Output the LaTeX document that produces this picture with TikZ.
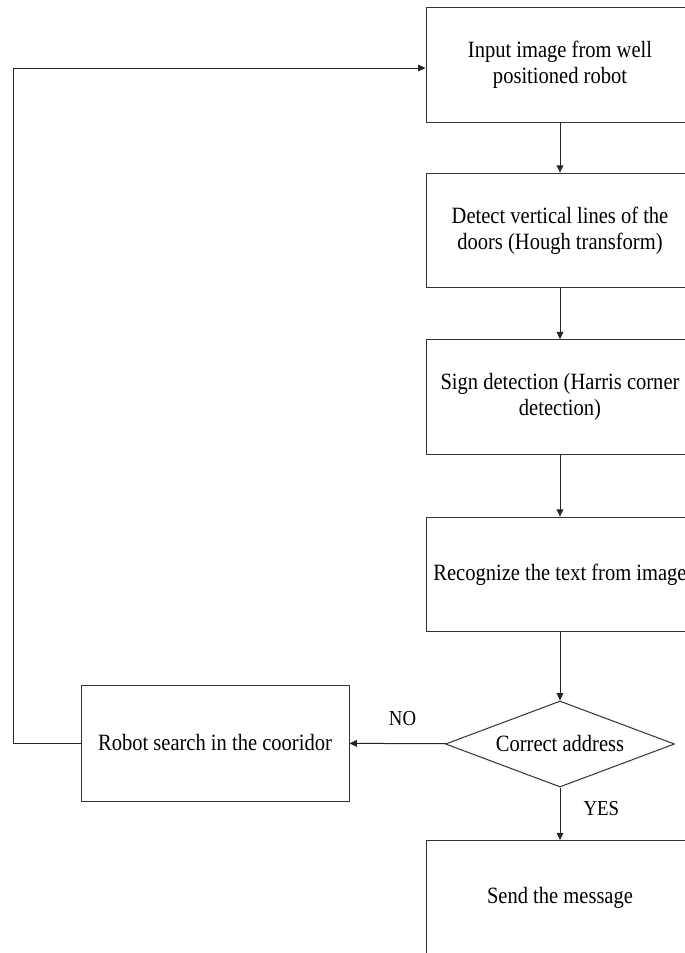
\documentclass[tikz,border=0pt]{standalone}
\usepackage{fontspec}
\setmainfont{Liberation Serif}[FakeStretch=0.88]
\usetikzlibrary{shapes.geometric,arrows.meta}
\begin{document}
\begin{tikzpicture}[x=0.75pt,y=-0.75pt,
  every node/.style={font=\fontsize{17.5}{19.5}\selectfont, text=black},
  procbox/.style={draw=black!80, line width=0.75pt, rectangle,
    minimum width=201pt, minimum height=86pt, inner sep=1pt, align=center},
  decision/.style={draw=black!80, line width=0.75pt, diamond, aspect=2.66,
    minimum width=171.75pt, minimum height=64.5pt, inner sep=0pt},
  flow/.style={draw=black!85, line width=0.75pt, -{Triangle[length=5.5pt,width=5pt]}},
  tag/.style={font=\fontsize{16}{18}\selectfont}]
\clip (0,0) rectangle (685,953);
\fill[white] (0,0) rectangle (685,953);

\node[procbox] (input) at (560,65) {Input image from well\\positioned robot};
\node[procbox] (hough) at (560,230.5) {Detect vertical lines of the\\doors (Hough transform)};
\node[procbox] (sign) at (560,397) {Sign detection (Harris corner\\detection)};
\node[procbox] (ocr) at (560,574.5) {Recognize the text from image};
\node[decision] (check) at (560,744) {Correct address};
\node[procbox, minimum height=87pt] (search) at (215,743) {Robot search in the cooridor};
\node[procbox] (send) at (560,898) {Send the message};

\coordinate (lowcorner) at (13.5,743);
\coordinate (topcorner) at (13.5,68);

\draw[flow] (input) -- (hough);
\draw[flow] (hough) -- (sign);
\draw[flow] (sign) -- (ocr);
\draw[flow] (ocr) -- (check);
\draw[flow] (check) -- node[tag, above, pos=0.45, yshift=10pt] (no) {NO} (search);
\draw[flow] (check) -- node[tag, right, pos=0.4, xshift=14pt] (yes) {YES} (send);
\draw[flow] (search.west) -- (lowcorner) -- (topcorner) -- (topcorner -| input.west);
\end{tikzpicture}
\end{document}
